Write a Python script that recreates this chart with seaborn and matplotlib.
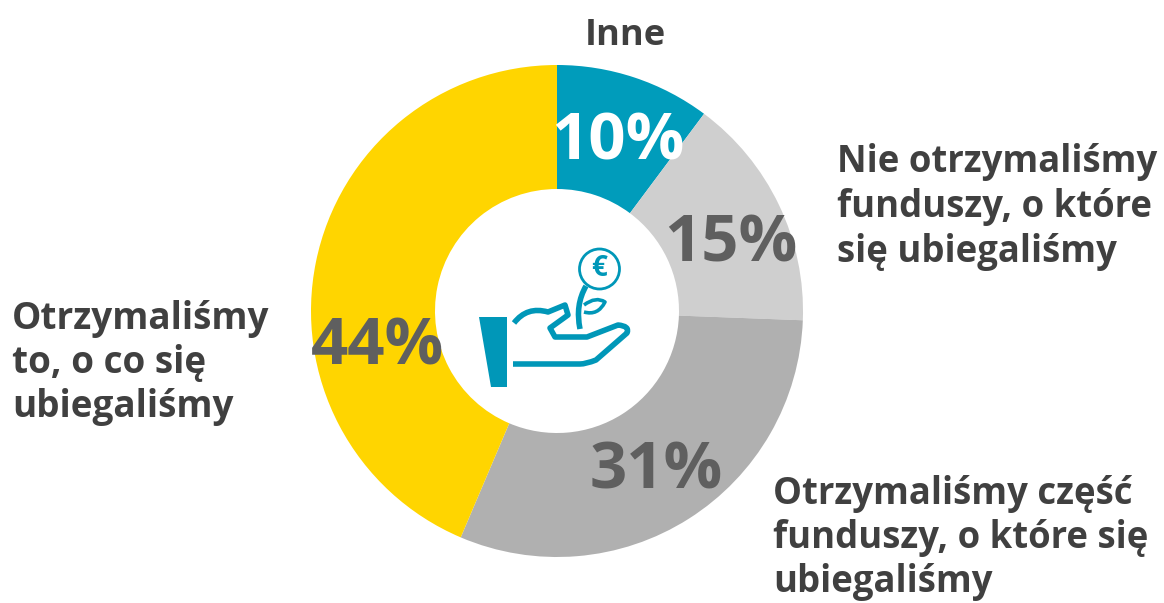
import seaborn as sns
import matplotlib.pyplot as plt
from matplotlib.patches import Circle, PathPatch, Polygon
from matplotlib.path import Path

sns.set_theme(style='white')
plt.rcParams['font.family'] = ['Open Sans', 'DejaVu Sans']

# shares, the printed labels are rounded
shares = [10.2, 15.4, 30.8, 43.6]
pct_labels = ['10%', '15%', '31%', '44%']
colors = ['#009CBB', '#CFCFCF', '#B0B0B0', '#FFD500']
pct_colors = ['white', '#5F5F5F', '#5F5F5F', '#5F5F5F']
category_labels = ['Inne', 'Nie otrzymaliśmy\nfunduszy, o które\nsię ubiegaliśmy',
                   'Otrzymaliśmy część\nfunduszy, o które się\nubiegaliśmy',
                   'Otrzymaliśmy\nto, o co się\nubiegaliśmy']

W, H = 1164, 603
TEAL = '#0097B8'
DARK = '#404040'


def py(y):
    # picture y (from the top) to axes y
    return H - y


def stroke(ax, verts, codes, lw):
    p = Path([(x, py(y)) for x, y in verts], codes)
    ax.add_patch(PathPatch(p, fill=False, edgecolor=TEAL, lw=lw, capstyle='butt', joinstyle='round'))


def draw_icon(ax):
    ax.add_patch(Polygon([(479, py(317)), (507, py(317)), (507, py(387)), (491, py(387))],
                         closed=True, facecolor=TEAL, edgecolor='none'))
    M, L, C = Path.MOVETO, Path.LINETO, Path.CURVE3
    # hand outline
    stroke(ax,
           [(514, 323), (527, 306), (548, 312), (565, 305), (568, 315), (550, 328), (555, 337),
            (587, 337), (618, 325), (630, 326), (627, 333), (596, 360), (586, 364), (580, 364), (513, 364)],
           [M, C, C, L, L, L, L, L, L, C, C, L, C, C, L], 4.0)
    # stem and leaf
    stroke(ax, [(580, 329), (575, 305), (586, 286)], [M, C, C], 4.0)
    stroke(ax, [(584, 305), (596, 296), (605, 302), (598, 316), (584, 312)], [M, C, C, C, C], 2.6)
    ax.add_patch(Circle((599.5, py(269)), 20, fill=False, edgecolor=TEAL, lw=2))
    ax.text(599.5, py(269), '€', color=TEAL, fontsize=20, fontweight='bold', ha='center', va='center')


fig = plt.figure(figsize=(W / 100, H / 100), dpi=100)
ax = fig.add_axes([0, 0, 1, 1])

ax.pie(shares, colors=colors, startangle=90, counterclock=False,
       center=(557, py(311)), radius=246, wedgeprops={'width': 124, 'linewidth': 0})
ax.set_xlim(0, W)
ax.set_ylim(0, H)
ax.set_aspect('auto')
ax.axis('off')

pct_pos = [(618, 143), (731, 245), (656, 472), (377, 348)]
for t, c, (x, y) in zip(pct_labels, pct_colors, pct_pos):
    ax.text(x, py(y), t, color=c, fontsize=47, fontweight='bold', ha='center', va='center')

ax.text(625, py(36), category_labels[0], fontsize=26, fontweight='bold', color=DARK, ha='center', va='center')
ax.text(837, py(207), category_labels[1], fontsize=26.3, fontweight='bold', color=DARK, ha='left', va='center', linespacing=1.23)
ax.text(773, py(538), category_labels[2], fontsize=26.3, fontweight='bold', color=DARK, ha='left', va='center', linespacing=1.2)
ax.text(12, py(363), category_labels[3], fontsize=26.6, fontweight='bold', color=DARK, ha='left', va='center', linespacing=1.22)

draw_icon(ax)

fig.savefig('out.png', dpi=100)
